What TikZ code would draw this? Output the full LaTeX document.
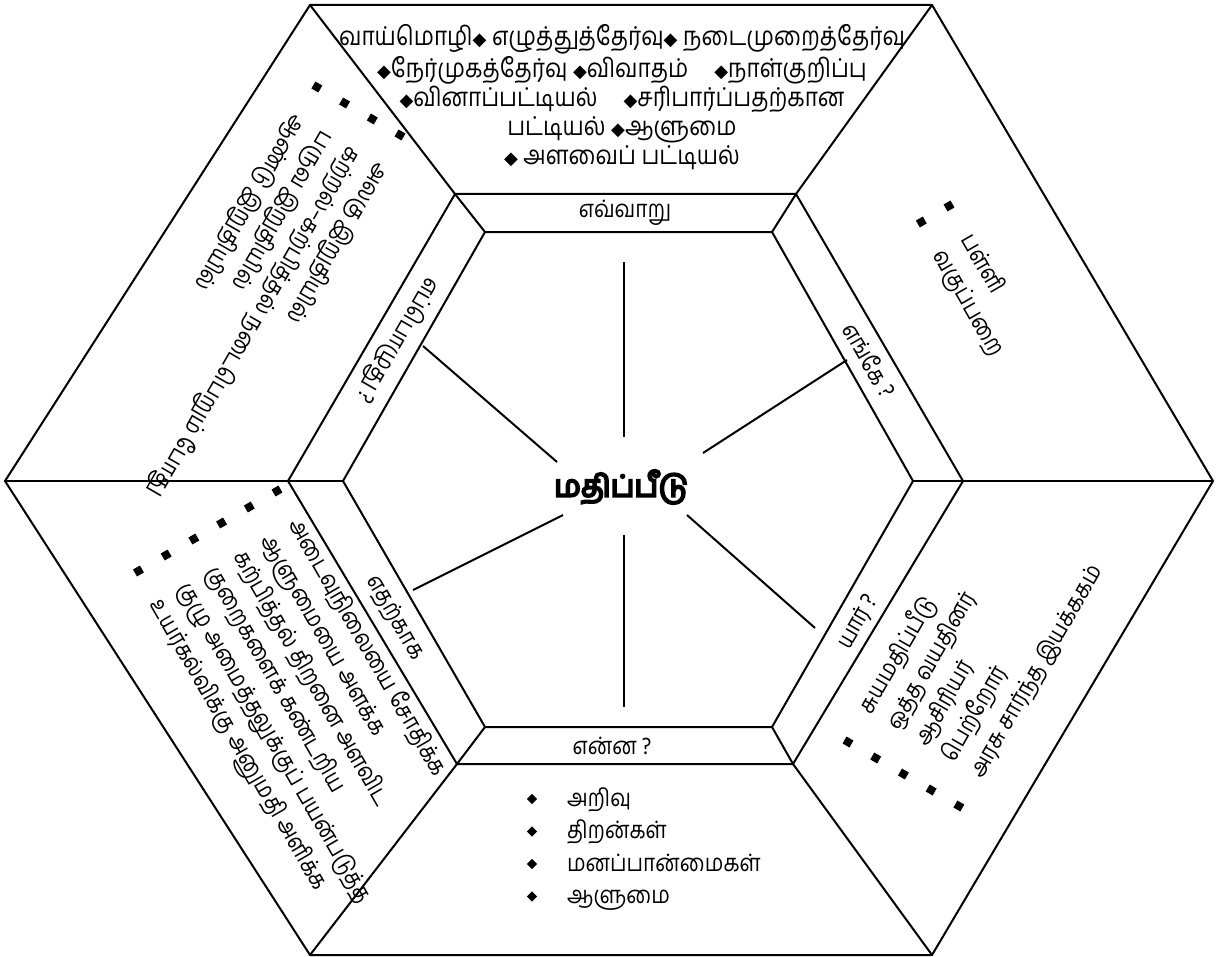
\documentclass[tikz,border=0pt]{standalone}
\usepackage{fontspec}
\newfontfamily\tamil[Script=Tamil,FakeStretch=0.87]{Hind Madurai}
\newfontfamily\tamilbf[Script=Tamil,FakeBold=7]{Hind Madurai}
\newfontfamily\symb{DejaVu Sans}
\usetikzlibrary{calc}
\newcommand\dm{{\symb\fontsize{9}{9}\selectfont ◆}}

\begin{document}
\begin{tikzpicture}[x=0.5pt,y=-0.5pt,line width=1pt,
  every node/.style={font=\tamil\fontsize{12}{16}\selectfont,inner sep=0pt},
  sqbullet/.style={fill,minimum size=4pt},
  dmbullet/.style={fill,minimum size=3.6pt,rotate=45}]
			%%%%% START %%%%%
			\useasboundingbox (0,0) rectangle (1219,957);
			
			% outer, middle and inner hexagon
			\coordinate (o1) at (5,481);   \coordinate (o2) at (310,5);
			\coordinate (o3) at (932,5);   \coordinate (o4) at (1213,481);
			\coordinate (o5) at (932,955); \coordinate (o6) at (310,955);
			\coordinate (m1) at (288,481); \coordinate (m2) at (455,194);
			\coordinate (m3) at (796,194); \coordinate (m4) at (963,481);
			\coordinate (m5) at (793,764); \coordinate (m6) at (457,764);
			\coordinate (i1) at (343,481); \coordinate (i2) at (485,232);
			\coordinate (i3) at (772,232); \coordinate (i4) at (913,481);
			\coordinate (i5) at (772,727); \coordinate (i6) at (485,727);
			
			\draw (o1) -- (o2) -- (o3) -- (o4) -- (o5) -- (o6) -- cycle;
			\draw (m1) -- (m2) -- (m3) -- (m4) -- (m5) -- (m6) -- cycle;
			\draw (i1) -- (i2) -- (i3) -- (i4) -- (i5) -- (i6) -- cycle;
			\foreach \k in {1,...,6}
				\draw (i\k) -- (m\k) -- (o\k);
			
			% spokes
			\coordinate (s1a) at (624,262); \coordinate (s1b) at (624,437);
			\coordinate (s2a) at (847,360); \coordinate (s2b) at (703,453);
			\coordinate (s3a) at (815,628); \coordinate (s3b) at (687,515);
			\coordinate (s4a) at (624,707); \coordinate (s4b) at (624,535);
			\coordinate (s5a) at (413,590); \coordinate (s5b) at (563,515);
			\coordinate (s6a) at (423,346); \coordinate (s6b) at (557,462);
			\foreach \k in {1,...,6}
				\draw (s\k a) -- (s\k b);
			
			\node[font=\tamilbf\fontsize{15}{20}\selectfont] (mathippidu) at (621,487) {மதிப்பீடு};
			
			% band labels
			\node (evvaru) at (625,213) {எவ்வாறு};
			\node[rotate=-60] (engke) at (870,360) {எங்கே ?};
			\node[rotate=60] (yaar) at (858,622) {யார் ?};
			\node (enna) at (612,746) {என்ன ?};
			\node[rotate=-60] (etharkaga) at (395,618) {எதற்காக};
			\node[rotate=240] (eppozhuthu) at (397,340) {எப்பொழுது ?};
			
			% how
			\node[align=center,font=\tamil\fontsize{13}{14.5}\selectfont] (vazhi) at (622,97)
				{வாய்மொழி\dm{} எழுத்துத்தேர்வு\dm{} நடைமுறைத்தேர்வு\\
				\dm நேர்முகத்தேர்வு \dm விவாதம்\quad\dm நாள்குறிப்பு\\
				\dm வினாப்பட்டியல்\quad\dm சரிபார்ப்பதற்கான\\
				பட்டியல் \dm ஆளுமை\\
				\dm{} அளவைப் பட்டியல்};
			
			% where
			\begin{scope}[shift={(949,206)},rotate=-60,transform shape]
				\foreach \t [count=\i from 0] in {பள்ளி, வகுப்பறை} {
					\node[sqbullet] (ngb\i) at (0,\i*32) {};
					\node[anchor=base west] (ngt\i) at (34,\i*32+7) {\t};
				}
			\end{scope}
			
			% who
			\begin{scope}[shift={(848,742)},rotate=60,transform shape]
				\foreach \t [count=\i from 0] in {சுயமதிப்பீடு, ஒத்த வயதினர், ஆசிரியர், பெற்றோர், அரசு சார்ந்த இயக்ககம்} {
					\node[sqbullet] (yrb\i) at (0,\i*32) {};
					\node[anchor=base west] (yrt\i) at (34,\i*32+7) {\t};
				}
			\end{scope}
			
			% what
			\begin{scope}[shift={(532,799)}]
				\foreach \t [count=\i from 0] in {அறிவு, திறன்கள், மனப்பான்மைகள், ஆளுமை} {
					\node[dmbullet] (enb\i) at (0,\i*32.5) {};
					\node[anchor=base west] (ent\i) at (34,\i*32.5+7) {\t};
				}
			\end{scope}
			
			% why
			\begin{scope}[shift={(277,491)},rotate=-60,transform shape]
				\foreach \t [count=\i from 0] in {அடைவுநிலையை சோதிக்க, ஆளுமையை அளக்க, கற்பித்தல் திறனை அளவிட, குறைகளைக் கண்டறிய, குழு அமைத்தலுக்குப் பயன்படுத்த, உயர்கல்விக்கு அனுமதி அளிக்க} {
					\node[sqbullet] (etb\i) at (0,\i*32) {};
					\node[anchor=base west] (ett\i) at (34,\i*32+7) {\t};
				}
			\end{scope}
			
			% when
			\begin{scope}[shift={(400,135)},rotate=240,transform shape]
				\foreach \t [count=\i from 0] in {அலகு இறுதியில், கற்றல்–கற்பித்தல் நடைபெறும் போது, பருவ இறுதியில், ஆண்டு இறுதியில்} {
					\node[sqbullet] (epb\i) at (0,\i*32) {};
					\node[anchor=base west] (ept\i) at (34,\i*32+7) {\t};
				}
			\end{scope}
			
			%%%%% END %%%%%
\end{tikzpicture}
\end{document}
